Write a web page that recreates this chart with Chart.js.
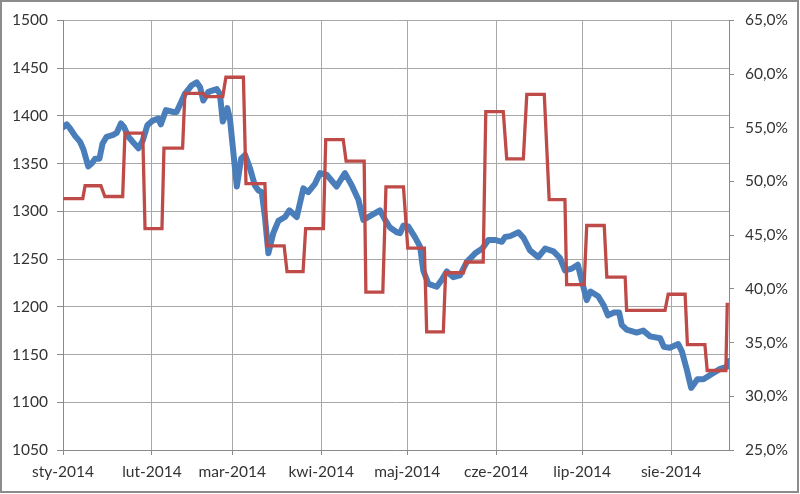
<!DOCTYPE html>
<html><head><meta charset="utf-8">
<script src="https://cdn.jsdelivr.net/npm/chart.js@4"></script>
<style>html,body{margin:0;padding:0;background:#fff}#wrap{width:800px;height:494px;position:relative}</style>
</head><body><div id="wrap"><canvas id="c" width="800" height="494"></canvas></div>
<script>
// Month starts (day offsets from 1 Jan 2014) and their labels
const monthDays = [0, 31, 59, 90, 120, 151, 181, 212];
const monthLabels = ['sty-2014', 'lut-2014', 'mar-2014', 'kwi-2014', 'maj-2014', 'cze-2014', 'lip-2014', 'sie-2014'];

// Blue series (left axis)
const blueDays = [0, 1.3, 2.4, 4.2, 5.9, 7.1, 8.8, 10.0, 11.2, 12.7, 13.8, 15.2, 17.5, 18.7, 20.2, 21.3, 22.8, 24.5, 26.3, 27.8,
  29.4, 31.3, 33.2, 34.1, 35.9, 38.5, 39.6, 42.5, 44.9, 46.6, 47.8, 48.9, 50.7, 53.6, 54.7, 55.7, 56.8, 57.3, 58.2, 60.6,
  62.1, 63.5, 65.2, 66.9, 68.1, 69.3, 70.4, 71.6, 73.3, 75.1, 77.4, 78.9, 81.5, 83.8, 85.5, 87.9, 89.6, 92.0, 95.4, 98.3,
  100.7, 103.0, 104.7, 107.6, 110.5, 112.3, 114.0, 116.4, 117.5, 118.7, 120.4, 122.7, 124.5, 125.6, 127.4, 130.3, 132.0, 133.8, 136.1, 138.4,
  140.8, 143.7, 146.2, 148.3, 150.6, 153.0, 154.1, 155.9, 158.8, 160.6, 162.8, 165.7, 168.1, 171.0, 173.3, 175.0, 177.4, 179.5, 180.9, 182.6,
  183.9, 186.6, 188.6, 190.0, 192.1, 193.9, 194.8, 196.5, 200.0, 202.3, 204.7, 208.2, 209.5, 211.6, 214.5, 215.8, 217.5, 219.0, 221.2, 223.3,
  225.9, 229.1, 231.4, 232.2];
const blueValues = [1388, 1391, 1387, 1379, 1373, 1365, 1347, 1350, 1355, 1355, 1371, 1378, 1380, 1382, 1392, 1388, 1378, 1372, 1366, 1374,
  1390, 1395, 1397, 1391, 1406, 1404, 1404, 1423, 1432, 1435, 1430, 1416, 1425, 1428, 1423, 1394, 1402, 1408, 1397, 1326,
  1355, 1359, 1345, 1327, 1322, 1320, 1294, 1256, 1277, 1290, 1294, 1301, 1294, 1324, 1320, 1329, 1340, 1338, 1326, 1340,
  1327, 1312, 1291, 1296, 1301, 1291, 1283, 1278, 1277, 1285, 1284, 1273, 1263, 1238, 1224, 1221, 1228, 1237, 1231, 1233,
  1247, 1256, 1261, 1270, 1270, 1268, 1273, 1274, 1278, 1272, 1259, 1252, 1261, 1258, 1251, 1238, 1240, 1244, 1227, 1207,
  1216, 1211, 1201, 1191, 1194, 1194, 1181, 1176, 1173, 1175, 1169, 1167, 1158, 1157, 1161, 1153, 1134, 1115, 1124, 1124,
  1129, 1135, 1137, 1143];

// Red series (right axis, percent)
const redDays = [0, 6.9, 7.7, 13.2, 14.6, 20.8, 21.6, 27.8, 28.6, 34.5, 35.2, 41.7, 42.5, 48.8, 49.7, 55.7, 56.8, 62.9,
  63.8, 70.4, 71.1, 77.1, 78.1, 83.7, 84.6, 90.8, 91.6, 97.7, 98.7, 105.0, 105.6, 111.5, 112.6, 118.7, 120.2, 126.0,
  126.8, 132.6, 133.4, 139.6, 140.4, 146.5, 147.4, 153.5, 154.7, 160.5, 161.7, 167.8, 169.5, 175.0, 175.6, 181.7,
  182.6, 188.7, 189.6, 196.0, 196.5, 209.9, 211.0, 216.9, 217.7, 223.8, 224.6, 231.1, 231.6];
const redValues = [48.4, 48.4, 49.6, 49.6, 48.6, 48.6, 54.5, 54.5, 45.6, 45.6, 53.1, 53.1, 58.2, 58.2, 57.9, 57.9, 59.7, 59.7,
  49.8, 49.8, 44.0, 44.0, 41.6, 41.6, 45.6, 45.6, 53.9, 53.9, 51.9, 51.9, 39.7, 39.7, 49.5, 49.5, 43.8, 43.8,
  36.0, 36.0, 41.5, 41.5, 42.5, 42.5, 56.5, 56.5, 52.1, 52.1, 58.1, 58.1, 48.3, 48.3, 40.4, 40.4,
  45.9, 45.9, 41.1, 41.1, 38.0, 38.0, 39.5, 39.5, 34.8, 34.8, 32.4, 32.4, 38.7];

const leftTicks = { min: 1050, max: 1500, step: 50 };
const rightTicks = { min: 25, max: 65, step: 5 };

const FONT = { family: 'Lato, "Liberation Sans", sans-serif', size: 15.5 };
const TEXT = '#333333';
const GRID = '#a8a8a8';
const AXIS = '#8a8a8a';

const frame = {
  id: 'frame',
  beforeDraw(chart) {
    const c = chart.ctx;
    c.save(); c.fillStyle = '#ffffff'; c.fillRect(0, 0, chart.width, chart.height); c.restore();
  },
  afterDraw(chart) {
    const c = chart.ctx;
    c.save(); c.strokeStyle = '#8c8c8c'; c.lineWidth = 2;
    c.strokeRect(1, 1, chart.width - 3, chart.height - 3);
    c.restore();
  }
};

new Chart(document.getElementById('c'), {
  type: 'line',
  data: {
    datasets: [
      {
        label: 'red',
        data: redDays.map((d, i) => ({ x: d, y: redValues[i] })),
        yAxisID: 'y1',
        borderColor: '#be4b48',
        borderWidth: 3.3,
        pointRadius: 0,
        tension: 0,
        borderJoinStyle: 'miter'
      },
      {
        label: 'blue',
        data: blueDays.map((d, i) => ({ x: d, y: blueValues[i] })),
        yAxisID: 'y',
        borderColor: '#4a7ebb',
        borderWidth: 6,
        pointRadius: 0,
        tension: 0,
        borderJoinStyle: 'round',
        borderCapStyle: 'round'
      }
    ]
  },
  options: {
    responsive: false,
    animation: false,
    devicePixelRatio: 1,
    layout: { padding: { top: 20, left: 0, right: 0, bottom: 0 } },
    plugins: { legend: { display: false }, tooltip: { enabled: false } },
    scales: {
      x: {
        type: 'linear',
        min: 0,
        max: 232.2,
        afterBuildTicks: s => { s.ticks = monthDays.map(v => ({ value: v })); },
        afterFit: s => { s.height = 44; },
        ticks: {
          autoSkip: false,
          maxRotation: 0,
          padding: 8,
          color: TEXT,
          font: FONT,
          callback: v => monthLabels[monthDays.indexOf(v)]
        },
        grid: { color: GRID, tickLength: 5, tickColor: AXIS },
        border: { color: AXIS }
      },
      y: {
        position: 'left',
        min: leftTicks.min,
        max: leftTicks.max,
        afterFit: s => { s.width = 63; },
        ticks: { stepSize: leftTicks.step, padding: 9, color: TEXT, font: FONT, callback: v => String(v) },
        grid: { color: GRID, tickLength: 6, tickColor: AXIS },
        border: { color: AXIS }
      },
      y1: {
        position: 'right',
        min: rightTicks.min,
        max: rightTicks.max,
        afterFit: s => { s.width = 71; },
        ticks: {
          stepSize: rightTicks.step, padding: 11, color: TEXT, font: FONT,
          callback: v => v.toFixed(1).replace('.', ',') + '%'
        },
        grid: { drawOnChartArea: false, tickLength: 5, tickColor: AXIS },
        border: { color: AXIS }
      }
    }
  },
  plugins: [frame]
});
</script></body></html>
